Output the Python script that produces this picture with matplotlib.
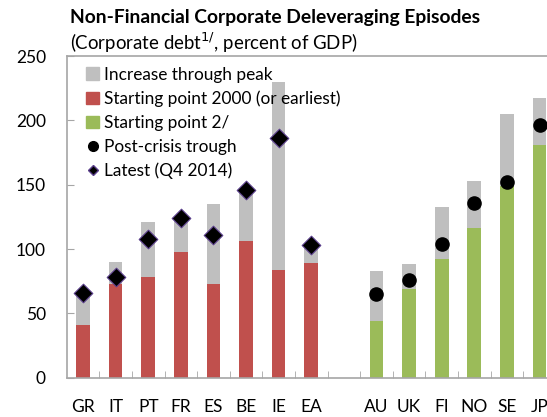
import numpy as np
import matplotlib.pyplot as plt
from matplotlib.lines import Line2D
from matplotlib.patches import Patch

plt.rcParams['font.family'] = ['Lato', 'DejaVu Sans']

# ---- data (percent of GDP) ----
labels = ['GR', 'IT', 'PT', 'FR', 'ES', 'BE', 'IE', 'EA', '',
          'AU', 'UK', 'FI', 'NO', 'SE', 'JP']
euro = ['GR', 'IT', 'PT', 'FR', 'ES', 'BE', 'IE', 'EA']
euro_start = [41, 73, 78, 98, 73, 106, 84, 89]
euro_peak = [66, 90, 121, 124, 135, 147, 230, 104]
euro_latest = [66, 78, 108, 124, 111, 146, 186, 103]
other = ['AU', 'UK', 'FI', 'NO', 'SE', 'JP']
other_start = [44, 69, 92, 116, 149, 181]
other_peak = [83, 88, 133, 153, 205, 217]
other_trough = [65, 76, 104, 136, 152, 196]

GRAY = '#bfbfbf'
RED = '#c0504d'
GREEN = '#9bbb59'

fig = plt.figure(figsize=(5.47, 4.17), dpi=100)
ax = fig.add_axes([0.1219, 0.0942, 0.8781, 0.7715])

pos = {lab: i for i, lab in enumerate(labels)}
xe = np.array([pos[c] for c in euro])
xo = np.array([pos[c] for c in other])
w = 0.42

ax.bar(xe, np.array(euro_peak) - np.array(euro_start), w, bottom=euro_start,
       color=GRAY, zorder=2)
ax.bar(xe, euro_start, w, color=RED, zorder=2)
ax.bar(xo, np.array(other_peak) - np.array(other_start), w, bottom=other_start,
       color=GRAY, zorder=2)
ax.bar(xo, other_start, w, color=GREEN, zorder=2)
ax.scatter(xo, other_trough, s=90, color='black', zorder=3)
ax.scatter(xe, euro_latest, s=90, marker='D', color='black',
           edgecolor='#5b3f8c', linewidth=0.8, zorder=3)

ax.set_xlim(-0.5, 14.23)
ax.set_ylim(0, 250)
ax.set_yticks([0, 50, 100, 150, 200, 250])
ax.set_xticks(range(len(labels)))
ax.set_xticklabels(labels)
ax.set_xticks(np.arange(0.5, 14, 1), minor=True)
ax.tick_params(axis='x', which='major', length=0, pad=15, labelsize=12.5)
ax.tick_params(axis='x', which='minor', direction='in', length=5,
               color='#a6a6a6')
ax.tick_params(axis='y', direction='in', length=5, color='#a6a6a6',
               pad=15, labelsize=12.5)
for s in ['left', 'bottom', 'top']:
    ax.spines[s].set_color('#a6a6a6')
    ax.spines[s].set_linewidth(1.2)
ax.spines['right'].set_visible(False)

handles = [Patch(color=GRAY, label='Increase through peak'),
           Patch(color=RED, label='Starting point 2000 (or earliest)'),
           Patch(color=GREEN, label='Starting point 2/'),
           Line2D([], [], marker='o', color='black', linestyle='none',
                  markersize=7, label='Post-crisis trough'),
           Line2D([], [], marker='D', color='black', markeredgecolor='#5b3f8c',
                  linestyle='none', markersize=5, label='Latest (Q4 2014)')]
ax.legend(handles=handles, loc='upper left', bbox_to_anchor=(0.012, 1.01),
          frameon=False, fontsize=12.4, handlelength=0.75, handleheight=0.75,
          handletextpad=0.3, labelspacing=0.46, borderaxespad=0.4)

fig.text(0.128, 0.958, 'Non-Financial Corporate Deleveraging Episodes',
         fontsize=13.9, fontweight='bold', va='center')
fig.text(0.128, 0.898, r'(Corporate debt$^{1/}$, percent of GDP)',
         fontsize=13.4, va='center')

fig.savefig('out.png', dpi=100)
